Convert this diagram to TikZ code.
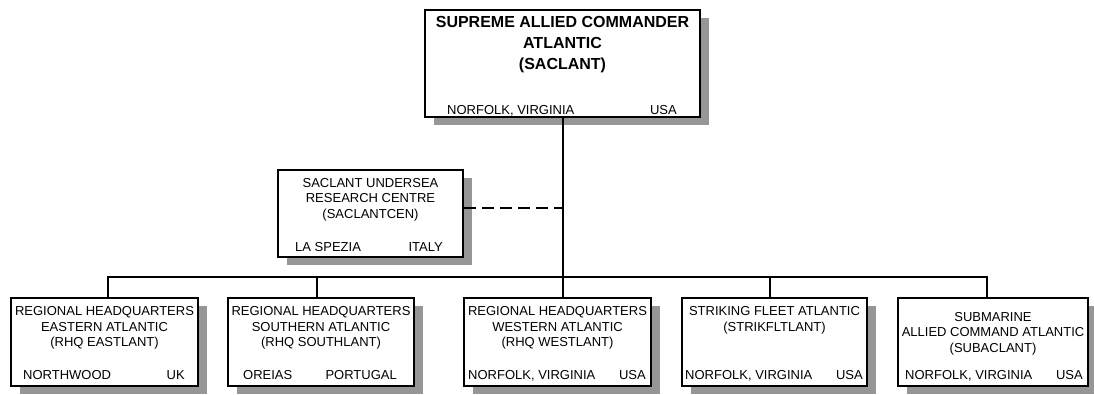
\documentclass[tikz,border=0pt]{standalone}
\usepackage{fontspec}
\setmainfont{Liberation Sans}
\usetikzlibrary{shadows}
\definecolor{shadowgray}{RGB}{150,150,150}
\begin{document}
\begin{tikzpicture}[x=1pt,y=1pt,
  orgbox/.style={draw=black, line width=2pt, fill=white, inner sep=0pt,
    drop shadow={shadow xshift=9pt, shadow yshift=-8pt, fill=shadowgray, opacity=1}},
  ttl/.style={font=\fontsize{13}{15.6}\selectfont, align=center, inner sep=0pt, anchor=north},
  bigttl/.style={font=\fontsize{16}{21}\selectfont\bfseries, align=center, inner sep=0pt, anchor=north},
  loc/.style={font=\fontsize{13}{15.6}\selectfont, inner sep=0pt},
  link/.style={line width=2pt, line join=miter}]
\useasboundingbox (0,0) rectangle (1094,-394);

% top box
\node[orgbox, minimum width=275, minimum height=107] (sac) at (562.5,-63.5) {};
\node[bigttl] (sact) at ([yshift=-7]sac.north) {SUPREME ALLIED COMMANDER\\ATLANTIC\\(SACLANT)};
\node[loc, anchor=base west] (sacl) at ([xshift=23,yshift=3.5]sac.south west) {NORFOLK, VIRGINIA};
\node[loc, anchor=base east] (sacr) at ([xshift=-24,yshift=3.5]sac.south east) {USA};

% research centre
\node[orgbox, minimum width=185, minimum height=87] (cen) at (370.5,-213.5) {};
\node[ttl] (cent) at ([yshift=-9]cen.north) {SACLANT UNDERSEA\\RESEARCH CENTRE\\(SACLANTCEN)};
\node[loc, anchor=base west] (cenl) at ([xshift=18,yshift=6.5]cen.south west) {LA SPEZIA};
\node[loc, anchor=base east] (cenr) at ([xshift=-21,yshift=6.5]cen.south east) {ITALY};

% bottom row
\node[orgbox, minimum width=187, minimum height=88] (b1) at (104.5,-342) {};
\node[ttl] (b1t) at ([yshift=-9.5]b1.north) {REGIONAL HEADQUARTERS\\EASTERN ATLANTIC\\(RHQ EASTLANT)};
\node[loc, anchor=base west] (b1l) at ([xshift=13,yshift=8]b1.south west) {NORTHWOOD};
\node[loc, anchor=base east] (b1r) at ([xshift=-14,yshift=8]b1.south east) {UK};

\node[orgbox, minimum width=186, minimum height=88] (b2) at (321,-342) {};
\node[ttl] (b2t) at ([yshift=-9.5]b2.north) {REGIONAL HEADQUARTERS\\SOUTHERN ATLANTIC\\(RHQ SOUTHLANT)};
\node[loc, anchor=base west] (b2l) at ([xshift=16,yshift=8]b2.south west) {OREIAS};
\node[loc, anchor=base east] (b2r) at ([xshift=-18,yshift=8]b2.south east) {PORTUGAL};

\node[orgbox, minimum width=187, minimum height=88] (b3) at (557.5,-342) {};
\node[ttl] (b3t) at ([yshift=-9.5]b3.north) {REGIONAL HEADQUARTERS\\WESTERN ATLANTIC\\(RHQ WESTLANT)};
\node[loc, anchor=base west] (b3l) at ([xshift=5,yshift=8]b3.south west) {NORFOLK, VIRGINIA};
\node[loc, anchor=base east] (b3r) at ([xshift=-6,yshift=8]b3.south east) {USA};

\node[orgbox, minimum width=185, minimum height=88] (b4) at (774.5,-342) {};
\node[ttl] (b4t) at ([yshift=-9.5]b4.north) {STRIKING FLEET ATLANTIC\\(STRIKFLTLANT)};
\node[loc, anchor=base west] (b4l) at ([xshift=4,yshift=8]b4.south west) {NORFOLK, VIRGINIA};
\node[loc, anchor=base east] (b4r) at ([xshift=-5,yshift=8]b4.south east) {USA};

\node[orgbox, minimum width=190, minimum height=88] (b5) at (993,-342) {};
\node[ttl] (b5t) at ([yshift=-15]b5.north) {SUBMARINE\\ALLIED COMMAND ATLANTIC\\(SUBACLANT)};
\node[loc, anchor=base west] (b5l) at ([xshift=8,yshift=8]b5.south west) {NORFOLK, VIRGINIA};
\node[loc, anchor=base east] (b5r) at ([xshift=-6,yshift=8]b5.south east) {USA};

% connectors
\coordinate (t1) at (108,-277);
\coordinate (t2) at (317,-277);
\coordinate (t3) at (562.5,-277);
\coordinate (t4) at (770,-277);
\coordinate (t5) at (987,-277);
\coordinate (dj) at (562.5,-208);

\draw[link] (t1 |- b1.north) -- (t1) -- (t5) -- (t5 |- b5.north);
\draw[link] (t2) -- (t2 |- b2.north);
\draw[link] (t4) -- (t4 |- b4.north);
\draw[link] (sac.south) -- (t3 |- b3.north);
\draw[link, dash pattern=on 12pt off 6pt] (cen.east |- dj) -- (dj);
\end{tikzpicture}
\end{document}
